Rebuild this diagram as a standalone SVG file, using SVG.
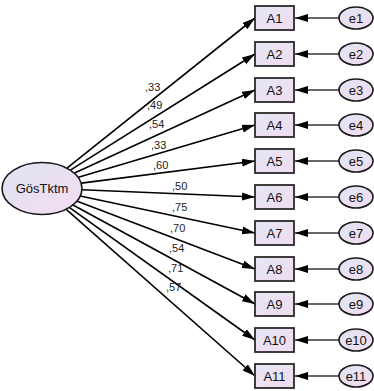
<svg xmlns="http://www.w3.org/2000/svg" width="374" height="391" viewBox="0 0 374 391">
<defs>
<linearGradient id="gBox" x1="0" y1="0" x2="1" y2="1">
<stop offset="0" stop-color="#e6e6f4"/>
<stop offset="1" stop-color="#f0dcf0"/>
</linearGradient>
<linearGradient id="gEll" x1="0" y1="0" x2="1" y2="1">
<stop offset="0" stop-color="#dfe4f2"/>
<stop offset="1" stop-color="#f4dcf2"/>
</linearGradient>
<marker id="arr" markerUnits="userSpaceOnUse" markerWidth="14" markerHeight="9" refX="13" refY="4" orient="auto">
<path d="M0,0 L13,4 L0,8 z" fill="#000"/>
</marker>
</defs>
<style>
.box{fill:url(#gBox);stroke:#2a2a2a;stroke-width:1.8}
.ell{fill:url(#gEll);stroke:#1a1a1a;stroke-width:1.6}
.t{font-family:"Liberation Sans",Arial,sans-serif;font-size:13px;fill:#111;text-anchor:middle}
.lb{font-family:"Liberation Sans",Arial,sans-serif;font-size:11px;fill:#222}
.c line{stroke:#000;stroke-width:1.6;marker-end:url(#arr)}
.e line{stroke:#333;stroke-width:1.3;marker-end:url(#arr)}
</style>
<g id="connectors" class="c">
<line x1="67.3" y1="167.8" x2="255" y2="18"/>
<line x1="70.7" y1="169.9" x2="255" y2="54"/>
<line x1="74.6" y1="172.9" x2="255" y2="90"/>
<line x1="78.4" y1="177.3" x2="255" y2="125"/>
<line x1="81.3" y1="183.1" x2="255" y2="161"/>
<line x1="81.9" y1="189.7" x2="255" y2="197"/>
<line x1="80.1" y1="196.0" x2="255" y2="233"/>
<line x1="76.6" y1="201.1" x2="255" y2="269"/>
<line x1="72.6" y1="204.7" x2="255" y2="304"/>
<line x1="68.9" y1="207.2" x2="255" y2="340"/>
<line x1="65.7" y1="208.9" x2="255" y2="376"/>
</g>
<g id="error-connectors" class="e">
<line x1="339" y1="18" x2="295" y2="18"/>
<line x1="339" y1="54" x2="295" y2="54"/>
<line x1="339" y1="90" x2="295" y2="90"/>
<line x1="339" y1="125" x2="295" y2="125"/>
<line x1="339" y1="161" x2="295" y2="161"/>
<line x1="339" y1="197" x2="295" y2="197"/>
<line x1="339" y1="233" x2="295" y2="233"/>
<line x1="339" y1="269" x2="295" y2="269"/>
<line x1="339" y1="304" x2="295" y2="304"/>
<line x1="339" y1="340" x2="295" y2="340"/>
<line x1="339" y1="376" x2="295" y2="376"/>
</g>
<g id="labels">
<text class="lb" x="145" y="91">,33</text>
<text class="lb" x="147" y="109">,49</text>
<text class="lb" x="149" y="128">,54</text>
<text class="lb" x="151" y="149">,33</text>
<text class="lb" x="153" y="169">,60</text>
<text class="lb" x="172" y="190">,50</text>
<text class="lb" x="172" y="211">,75</text>
<text class="lb" x="170" y="232">,70</text>
<text class="lb" x="169" y="252">,54</text>
<text class="lb" x="168" y="272">,71</text>
<text class="lb" x="166" y="291">,57</text>
</g>
<g id="GosTktm">
<ellipse class="ell" cx="42" cy="188.5" rx="40" ry="26"/>
<text class="t" x="42" y="193">GösTktm</text>
</g>
<g id="A1"><rect class="box" x="255" y="6" width="39" height="24"/><text class="t" x="274.5" y="22.5">A1</text></g>
<g id="A2"><rect class="box" x="255" y="42" width="39" height="24"/><text class="t" x="274.5" y="58.5">A2</text></g>
<g id="A3"><rect class="box" x="255" y="78" width="39" height="24"/><text class="t" x="274.5" y="94.5">A3</text></g>
<g id="A4"><rect class="box" x="255" y="113" width="39" height="24"/><text class="t" x="274.5" y="129.5">A4</text></g>
<g id="A5"><rect class="box" x="255" y="149" width="39" height="24"/><text class="t" x="274.5" y="165.5">A5</text></g>
<g id="A6"><rect class="box" x="255" y="185" width="39" height="24"/><text class="t" x="274.5" y="201.5">A6</text></g>
<g id="A7"><rect class="box" x="255" y="221" width="39" height="24"/><text class="t" x="274.5" y="237.5">A7</text></g>
<g id="A8"><rect class="box" x="255" y="257" width="39" height="24"/><text class="t" x="274.5" y="273.5">A8</text></g>
<g id="A9"><rect class="box" x="255" y="292" width="39" height="24"/><text class="t" x="274.5" y="308.5">A9</text></g>
<g id="A10"><rect class="box" x="255" y="328" width="39" height="24"/><text class="t" x="274.5" y="344.5">A10</text></g>
<g id="A11"><rect class="box" x="255" y="364" width="39" height="24"/><text class="t" x="274.5" y="380.5">A11</text></g>
<g id="e1"><ellipse class="ell" cx="356" cy="18" rx="17" ry="11"/><text class="t" x="356" y="22.5">e1</text></g>
<g id="e2"><ellipse class="ell" cx="356" cy="54" rx="17" ry="11"/><text class="t" x="356" y="58.5">e2</text></g>
<g id="e3"><ellipse class="ell" cx="356" cy="90" rx="17" ry="11"/><text class="t" x="356" y="94.5">e3</text></g>
<g id="e4"><ellipse class="ell" cx="356" cy="125" rx="17" ry="11"/><text class="t" x="356" y="129.5">e4</text></g>
<g id="e5"><ellipse class="ell" cx="356" cy="161" rx="17" ry="11"/><text class="t" x="356" y="165.5">e5</text></g>
<g id="e6"><ellipse class="ell" cx="356" cy="197" rx="17" ry="11"/><text class="t" x="356" y="201.5">e6</text></g>
<g id="e7"><ellipse class="ell" cx="356" cy="233" rx="17" ry="11"/><text class="t" x="356" y="237.5">e7</text></g>
<g id="e8"><ellipse class="ell" cx="356" cy="269" rx="17" ry="11"/><text class="t" x="356" y="273.5">e8</text></g>
<g id="e9"><ellipse class="ell" cx="356" cy="304" rx="17" ry="11"/><text class="t" x="356" y="308.5">e9</text></g>
<g id="e10"><ellipse class="ell" cx="356" cy="340" rx="17" ry="11"/><text class="t" x="356" y="344.5">e10</text></g>
<g id="e11"><ellipse class="ell" cx="356" cy="376" rx="17" ry="11"/><text class="t" x="356" y="380.5">e11</text></g>
</svg>
